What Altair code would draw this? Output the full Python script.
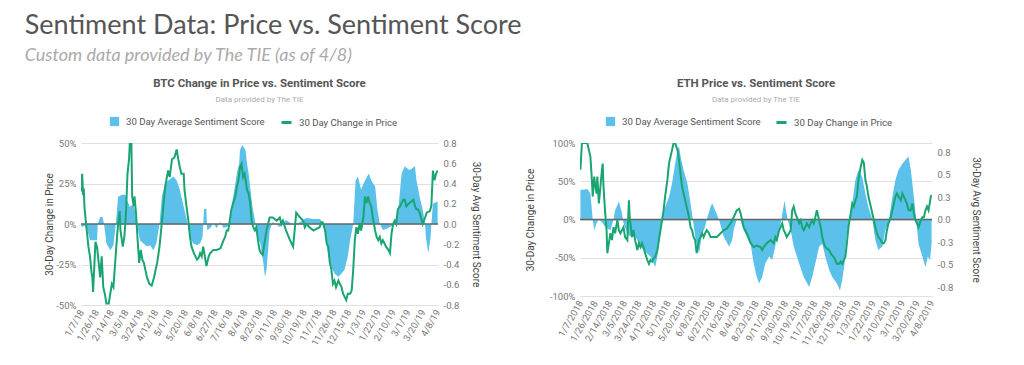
import altair as alt
import pandas as pd

START = "2018-01-07"
tick_dates = ["2018-01-07", "2018-01-26", "2018-02-14", "2018-03-05", "2018-03-24",
              "2018-04-12", "2018-05-01", "2018-05-20", "2018-06-08", "2018-06-27",
              "2018-07-16", "2018-08-04", "2018-08-23", "2018-09-11", "2018-09-30",
              "2018-10-19", "2018-11-07", "2018-11-26", "2018-12-15", "2019-01-03",
              "2019-01-22", "2019-02-10", "2019-03-01", "2019-03-20", "2019-04-08"]

SENT = "30 Day Average Sentiment Score"
PRICE = "30 Day Change in Price"

# ---- BTC: 30-day change in price (%), day offset from 2018-01-07
btc_price_day = [0, 1, 2, 3, 4, 6, 9, 11, 13, 14, 15, 18, 20, 23, 24, 26, 28, 30, 32, 35,
                 39, 41, 45, 47, 49, 50, 53, 55, 57, 59, 61, 62, 64, 65, 67, 68, 70, 72, 74, 76,
                 78, 80, 84, 87, 90, 93, 96, 97, 100, 102, 104, 106, 108, 111, 113, 116, 119, 122, 124, 126,
                 128, 131, 132, 135, 137, 139, 141, 144, 146, 148, 150, 152, 154, 156, 158, 160, 163, 165, 169, 173,
                 178, 182, 184, 186, 188, 192, 197, 199, 201, 203, 205, 207, 209, 212, 214, 216, 218, 220, 222, 224,
                 226, 228, 230, 232, 237, 241, 245, 250, 254, 256, 258, 262, 267, 271, 273, 275, 280, 284, 286, 288,
                 292, 297, 301, 305, 307, 309, 312, 314, 316, 318, 320, 322, 324, 326, 329, 331, 333, 335, 337, 339,
                 341, 344, 346, 348, 350, 352, 354, 356, 358, 361, 363, 365, 367, 369, 371, 373, 376, 378, 380, 382,
                 384, 386, 388, 390, 393, 395, 397, 399, 401, 403, 405, 408, 410, 412, 414, 416, 420, 425, 427, 429,
                 431, 433, 437, 440, 442, 446, 448, 450, 452, 454, 456]
btc_price_pct = [20, 31, 18, 22, 10, 0, -14, -20, -30, -33, -42, -11, -14, -28, -33, -20, -39, -43, -49, -49,
                 -37, -39, -12, 0, 8, -4, -14, -8, 6, 31, 40, 50, 50, 17, 11, 17, 6, -10, -24, -16,
                 -22, -24, -33, -37, -38, -33, -26, -24, -14, -4, 6, 17, 25, 33, 29, 40, 41, 46, 40, 35,
                 31, 31, 21, 9, 2, -8, -14, -18, -20, -22, -21, -18, -20, -14, -20, -26, -20, -18, -16, -16,
                 -15, -10, -8, -4, -4, 9, 17, 23, 27, 35, 37, 29, 31, 21, 19, 13, 2, -2, -4, -2,
                 -10, -16, -18, -19, -4, 4, 4, 2, 4, 0, 2, -4, -10, -14, -4, 7, 4, 2, -2, 0,
                 -2, -4, -3, -2, 1, 1, -4, -12, -14, -24, -28, -37, -35, -39, -35, -37, -39, -43, -45, -47,
                 -43, -43, -41, -28, -10, -2, -6, 0, -4, 4, 17, 13, 17, 13, 11, 4, -4, -8, -10, -8,
                 -12, -10, -12, -14, -16, -18, -6, 0, 2, 0, 9, 11, 13, 15, 15, 11, 13, 15, 11, 9,
                 9, 7, 0, 4, 7, 8, 11, 33, 27, 31, 33]

# ---- BTC: 30-day average sentiment score
btc_sent_day = [0, 4, 7, 9, 11, 15, 20, 21, 24, 27, 29, 32, 37, 41, 44, 47, 52, 56, 58, 62,
                67, 71, 75, 79, 84, 88, 92, 96, 100, 103, 107, 111, 118, 122, 126, 128, 131, 135, 139, 143,
                148, 152, 155, 156, 157, 160, 161, 165, 169, 173, 178, 182, 186, 190, 192, 195, 199, 202, 203, 206,
                210, 212, 214, 216, 219, 222, 225, 229, 233, 235, 237, 239, 241, 245, 254, 262, 271, 280, 288, 297,
                305, 309, 312, 314, 318, 324, 329, 333, 337, 341, 344, 348, 351, 354, 358, 363, 368, 371, 376, 379,
                382, 386, 393, 399, 405, 410, 414, 420, 427, 429, 433, 437, 440, 441, 444, 447, 448, 450, 455, 456]
btc_sent_val = [-0.03, -0.02, -0.03, -0.10, -0.16, -0.16, -0.16, 0.0, 0.07, 0.07, 0.0, -0.19, -0.26, -0.21, 0.0, 0.27, 0.29, 0.29, 0.24, 0.17,
                0.20, 0.0, -0.16, -0.19, -0.22, -0.21, -0.26, -0.19, 0.0, 0.27, 0.40, 0.43, 0.47, 0.43, 0.34, 0.27, 0.17, 0.04, -0.13, -0.19,
                -0.21, -0.19, -0.13, 0.0, 0.15, 0.15, -0.06, -0.04, 0.01, -0.04, 0.02, -0.04, -0.03, 0.0, 0.17, 0.30, 0.50, 0.60, 0.73, 0.78,
                0.73, 0.60, 0.50, 0.37, 0.17, 0.04, -0.13, -0.19, -0.39, -0.52, -0.45, -0.26, -0.06, 0.02, -0.03, 0.04, -0.01, 0.02, 0.06, 0.05,
                0.05, 0.02, -0.06, -0.22, -0.39, -0.49, -0.52, -0.49, -0.45, -0.32, -0.16, 0.0, 0.43, 0.47, 0.34, 0.43, 0.50, 0.43, 0.37, 0.14,
                0.0, -0.06, -0.04, -0.01, 0.10, 0.50, 0.57, 0.53, 0.57, 0.43, 0.27, 0.14, 0.0, -0.13, -0.29, -0.13, 0.0, 0.20, 0.22, 0.22]

# ---- ETH: 30-day change in price (%)
eth_price_day = [0, 2, 9, 11, 13, 15, 16, 18, 19, 21, 22, 24, 26, 28, 29, 30, 32, 34, 35, 37,
                 39, 41, 43, 45, 48, 50, 52, 54, 56, 58, 61, 63, 64, 66, 67, 69, 71, 74, 76, 78,
                 80, 82, 84, 87, 89, 91, 93, 95, 97, 100, 102, 104, 106, 108, 110, 113, 115, 117, 119, 121,
                 123, 126, 128, 130, 132, 134, 136, 139, 141, 143, 145, 147, 149, 151, 154, 156, 158, 160, 162, 164,
                 167, 169, 173, 177, 182, 186, 190, 195, 199, 203, 206, 208, 210, 212, 216, 221, 225, 229, 234, 236,
                 238, 242, 247, 251, 253, 255, 258, 260, 262, 264, 266, 268, 271, 273, 275, 277, 279, 281, 284, 286,
                 288, 290, 292, 294, 297, 299, 301, 303, 305, 307, 310, 312, 314, 316, 318, 320, 323, 325, 327, 329,
                 331, 333, 336, 338, 340, 342, 344, 346, 348, 351, 353, 355, 357, 359, 361, 364, 366, 368, 370, 372,
                 374, 377, 379, 381, 383, 385, 387, 390, 392, 394, 396, 398, 400, 403, 405, 407, 409, 411, 413, 416,
                 418, 420, 422, 424, 426, 429, 431, 433, 435, 437, 439, 442, 444, 446, 448, 450, 452, 455, 456]
eth_price_pct = [65, 100, 100, 91, 82, 51, 30, 56, 47, 34, 56, 21, 43, 65, 73, 43, 12, -14, -44, -31,
                 -18, -27, -10, -18, -1, -14, -18, -14, -10, -23, -27, 25, 3, -14, -23, -14, -27, -40, -31, -36,
                 -31, -36, -44, -53, -58, -53, -55, -51, -49, -40, -27, -14, -1, 12, 30, 52, 73, 82, 91, 100,
                 100, 91, 78, 60, 43, 34, 25, 12, 3, -10, -14, -23, -27, -44, -27, -23, -18, -23, -18, -14,
                 -18, -23, -23, -23, -18, -14, -12, -5, 3, 12, 14, 8, -1, -10, -18, -31, -36, -34, -36, -40,
                 -36, -31, -27, -31, -23, -27, -14, -10, -5, -14, -18, -23, -18, -14, 12, 17, 8, 3, -5, -1,
                 -10, -14, -10, -5, -10, -5, -1, -5, 3, 12, -1, -10, -23, -31, -36, -38, -40, -44, -47, -49,
                 -53, -58, -58, -55, -58, -53, -49, -31, -10, 8, 21, 17, 25, 30, 52, 69, 78, 74, 52, 43,
                 30, 17, 8, -1, -10, -18, -23, -27, -31, -31, -27, -14, -5, 3, 12, 21, 30, 34, 30, 25,
                 34, 30, 25, 21, 12, 12, 21, 8, -1, -5, -10, -1, 3, 3, 12, 17, 12, 30, 32]

# ---- ETH: 30-day average sentiment score
eth_sent_day = [0, 4, 9, 13, 15, 16, 18, 21, 24, 28, 32, 39, 43, 45, 50, 54, 56, 61, 65, 69,
                74, 78, 82, 87, 91, 95, 97, 100, 103, 106, 108, 110, 115, 119, 123, 126, 128, 131, 134, 139,
                143, 146, 149, 151, 154, 158, 162, 164, 169, 171, 175, 180, 186, 193, 197, 199, 203, 208, 212, 221,
                225, 229, 232, 236, 240, 245, 249, 253, 254, 258, 261, 265, 269, 273, 277, 284, 290, 297, 301, 305,
                310, 314, 318, 323, 327, 333, 337, 340, 343, 345, 348, 353, 357, 361, 366, 370, 374, 379, 383, 387,
                392, 396, 400, 405, 409, 413, 418, 422, 426, 429, 433, 436, 439, 444, 448, 451, 454, 456]
eth_sent_val = [0.33, 0.33, 0.34, 0.29, 0.10, 0.0, -0.12, -0.04, 0.0, -0.03, -0.08, -0.12, 0.0, 0.10, 0.20, 0.07, -0.04, -0.16, -0.19, -0.16,
                -0.23, -0.30, -0.34, -0.38, -0.41, -0.49, -0.53, -0.41, -0.19, -0.04, 0.10, 0.14, 0.25, 0.40, 0.62, 0.77, 0.81, 0.66, 0.55, 0.40,
                0.18, 0.0, -0.19, -0.27, -0.38, -0.16, -0.08, 0.0, 0.14, 0.18, 0.10, 0.0, -0.19, -0.30, -0.23, -0.12, 0.0, -0.01, -0.12, -0.27,
                -0.49, -0.64, -0.71, -0.64, -0.49, -0.41, -0.45, -0.30, -0.23, -0.12, 0.0, 0.21, 0.0, -0.12, -0.30, -0.49, -0.64, -0.75, -0.64, -0.49,
                -0.30, -0.27, -0.41, -0.56, -0.64, -0.71, -0.79, -0.67, -0.49, -0.23, -0.04, 0.18, 0.44, 0.55, 0.47, 0.29, 0.14, 0.0, -0.23, -0.34,
                -0.30, -0.12, -0.04, 0.25, 0.44, 0.55, 0.62, 0.66, 0.70, 0.55, 0.25, 0.0, -0.27, -0.41, -0.53, -0.41, -0.45, -0.27]

BLUE = "#5BC0EA"
GREEN = "#18A572"


def to_dates(days):
    base = pd.Timestamp(START)
    return [(base + pd.Timedelta(days=d)).strftime("%Y-%m-%dT00:00:00") for d in days]


def dt(s, hours=0):
    t = pd.Timestamp(s)
    return alt.DateTime(year=t.year, month=t.month, date=t.day, hours=hours)


def panel(title, p_day, p_val, s_day, s_val, p_dom, p_ticks, p_title_pad,
          s_dom, s_ticks, s_title_pad, fmt, width, height, lx_sent, lx_price):
    dfp = pd.DataFrame({"date": to_dates(p_day), "price": p_val, "series": PRICE})
    dfs = pd.DataFrame({"date": to_dates(s_day), "sent": s_val, "zero": 0.0, "series": SENT})
    dfz = pd.DataFrame({"zero": [0.0]})

    first = pd.Timestamp(tick_dates[0]) - pd.Timedelta(days=1)
    last = pd.Timestamp(tick_dates[-1])
    x = alt.X("date:T",
              scale=alt.Scale(domain=[dt(first, 12), dt(last, 12)]),
              axis=alt.Axis(values=[dt(d) for d in tick_dates], format=fmt, labelAngle=300,
                            title=None, grid=False, labelPadding=5, labelFontSize=9.5,
                            labelColor="#777", labelOverlap=False))

    area = alt.Chart(dfs).mark_area(color=BLUE, opacity=1, clip=True).encode(
        x=x,
        y=alt.Y("sent:Q",
                scale=alt.Scale(domain=s_dom, nice=False, zero=False),
                axis=alt.Axis(orient="right", values=s_ticks,
                              labelExpr="replace(format(datum.value, '.1f'), '\u2212', '-')",
                              title="30-Day Avg Sentiment Score", grid=False,
                              labelPadding=5, titlePadding=s_title_pad)),
        y2="zero:Q",
        fill=alt.Fill("series:N", scale=alt.Scale(domain=[SENT], range=[BLUE]),
                      legend=alt.Legend(orient="none", legendX=lx_sent, legendY=-27, title=None,
                                        symbolType="square", symbolSize=85, labelOffset=6,
                                        labelFontSize=9.6, labelColor="#555", symbolOpacity=1)),
    )

    rule = alt.Chart(dfz).mark_rule(color="#666", strokeWidth=1.5).encode(
        y=alt.Y("zero:Q", scale=alt.Scale(domain=s_dom, nice=False, zero=False), axis=None)
    )

    line = alt.Chart(dfp).mark_line(strokeWidth=2, clip=True).encode(
        x=x,
        y=alt.Y("price:Q",
                scale=alt.Scale(domain=p_dom, nice=False, zero=False),
                axis=alt.Axis(orient="left", values=p_ticks, labelExpr="datum.value + '%'",
                              title="30-Day Change in Price", grid=True,
                              labelPadding=5, titlePadding=p_title_pad)),
        stroke=alt.Stroke("series:N", scale=alt.Scale(domain=[PRICE], range=[GREEN]),
                          legend=alt.Legend(orient="none", legendX=lx_price, legendY=-27, title=None,
                                            symbolType="stroke", symbolSize=100, symbolStrokeWidth=3,
                                            labelOffset=6, labelFontSize=9.6, labelColor="#555")),
    )

    return alt.layer(area, rule, line).resolve_scale(y="independent").properties(
        width=width, height=height,
        title=alt.TitleParams(text=title, subtitle="Data provided by The TIE",
                              font="Roboto", fontSize=11.5, fontWeight="bold", color="#555",
                              subtitleFont="Roboto", subtitleFontSize=8, subtitleColor="#aaa",
                              subtitlePadding=7, offset=12, anchor="middle"),
    )


btc = panel("BTC Change in Price vs. Sentiment Score", btc_price_day, btc_price_pct,
            btc_sent_day, btc_sent_val, [-50, 50], [-50, -25, 0, 25, 50], 1,
            [-0.8, 0.8], [-0.8, -0.6, -0.4, -0.2, 0.0, 0.2, 0.4, 0.6, 0.8], 12,
            "%-m/%-d/%y", 357, 162, 28, 199)

eth = panel("ETH Price vs. Sentiment Score", eth_price_day, eth_price_pct,
            eth_sent_day, eth_sent_val, [-100, 100], [-100, -50, 0, 50, 100], 14,
            [-0.85, 0.85], [-0.75, -0.5, -0.25, 0.0, 0.25, 0.5, 0.75], 18,
            "%-m/%-d/%Y", 352, 153, 25, 195)

chart = alt.hconcat(btc, eth, spacing=44).resolve_scale(
    fill="independent", stroke="independent"
).resolve_legend(
    fill="independent", stroke="independent"
).properties(
    title=alt.TitleParams(text="Sentiment Data: Price vs. Sentiment Score",
                          subtitle="Custom data provided by The TIE (as of 4/8)",
                          anchor="start", font="Lato", fontSize=27, fontWeight="normal",
                          color="#555", subtitleFont="Lato", subtitleFontSize=18,
                          subtitleFontStyle="italic", subtitleColor="#aaa",
                          subtitlePadding=7, offset=12, dx=-20),
    padding={"left": 16, "top": 3, "right": 5, "bottom": 5},
).configure(font="Roboto").configure_view(stroke=None).configure_axis(
    labelFont="Roboto", titleFont="Roboto", labelFontSize=9.5, labelColor="#777",
    titleFontSize=10, titleFontWeight="normal", titleColor="#444",
    gridColor="#e0e0e0", domain=False, ticks=False,
).configure_legend(labelFont="Roboto")

chart.save("out.html", embed_options={"renderer": "svg", "actions": False})
